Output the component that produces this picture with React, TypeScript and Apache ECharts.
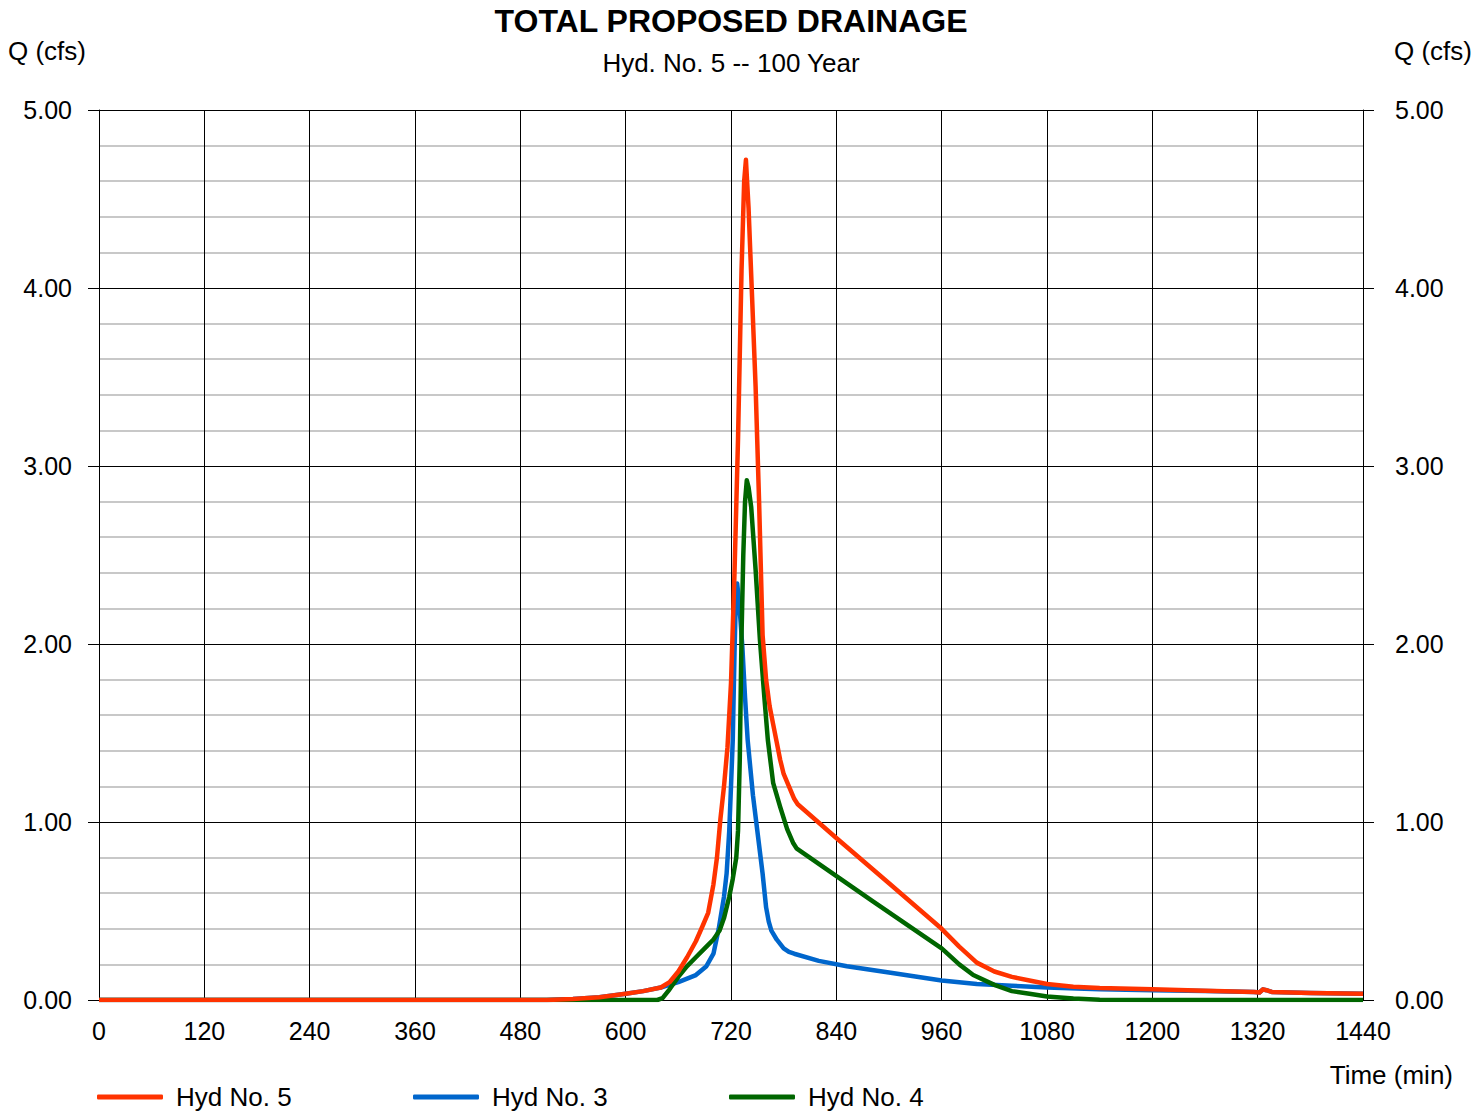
import React, { useEffect, useRef } from "react";
import * as echarts from "echarts";

// Hydrograph ordinates: [time (min), Q (cfs)]
const hydNo5: [number, number][] = [
  [0, 0], [510, 0], [540, 0.005], [570, 0.015], [600, 0.035], [620, 0.05], [640, 0.07],
  [650, 0.1], [660, 0.16], [670, 0.24], [680, 0.33], [688, 0.42], [694, 0.49], [700, 0.65],
  [704, 0.8], [708, 1.02], [712, 1.2], [716, 1.42], [720, 1.78], [724, 2.4], [728, 3.15],
  [732, 4.1], [735, 4.6], [737, 4.72], [740, 4.45], [744, 3.95], [748, 3.45], [752, 2.8],
  [756, 2.05], [760, 1.8], [764, 1.65], [768, 1.55], [772, 1.45], [776, 1.35], [780, 1.27],
  [786, 1.2], [792, 1.13], [796, 1.1], [840, 0.91], [900, 0.656], [960, 0.4], [980, 0.3],
  [1000, 0.21], [1020, 0.16], [1040, 0.13], [1060, 0.11], [1080, 0.09], [1110, 0.075],
  [1140, 0.067], [1200, 0.06], [1260, 0.052], [1316, 0.045], [1322, 0.042], [1326, 0.06],
  [1330, 0.055], [1336, 0.045], [1380, 0.04], [1440, 0.035],
];

const hydNo3: [number, number][] = [
  [0, 0], [510, 0], [540, 0.005], [570, 0.015], [600, 0.035], [620, 0.05], [640, 0.07],
  [660, 0.1], [680, 0.14], [692, 0.19], [700, 0.26], [706, 0.4], [712, 0.58], [715, 0.71],
  [718, 0.95], [720, 1.2], [722, 1.46], [724, 1.95], [725, 2.15], [727, 2.34], [729, 2.25],
  [731, 2.12], [733, 1.98], [736, 1.7], [739, 1.46], [745, 1.15], [750, 0.95], [756, 0.71],
  [760, 0.52], [763, 0.44], [766, 0.39], [772, 0.34], [780, 0.29], [786, 0.27], [792, 0.26],
  [820, 0.22], [852, 0.19], [900, 0.155], [960, 0.11], [1000, 0.09], [1040, 0.08],
  [1080, 0.07], [1140, 0.06], [1200, 0.055], [1260, 0.05], [1316, 0.045], [1322, 0.042],
  [1326, 0.06], [1330, 0.055], [1336, 0.045], [1380, 0.04], [1440, 0.035],
];

const hydNo4: [number, number][] = [
  [0, 0], [636, 0], [642, 0.01], [650, 0.06], [660, 0.13], [670, 0.19], [680, 0.24],
  [692, 0.3], [700, 0.34], [707, 0.39], [712, 0.46], [718, 0.58], [722, 0.68], [726, 0.8],
  [728, 0.95], [730, 1.35], [732, 2.05], [734, 2.5], [736, 2.8], [738, 2.92], [740, 2.88],
  [743, 2.77], [748, 2.42], [753, 2.02], [758, 1.7], [762, 1.46], [768, 1.22], [776, 1.085],
  [784, 0.96], [791, 0.88], [795, 0.85], [880, 0.56], [960, 0.29], [980, 0.2], [996, 0.14],
  [1020, 0.085], [1040, 0.05], [1060, 0.035], [1080, 0.02], [1110, 0.008], [1140, 0.002],
  [1200, 0], [1440, 0],
];

const seriesNames = ["Hyd No. 5", "Hyd No. 3", "Hyd No. 4"];
const seriesColors = ["#ff3300", "#0066cc", "#006600"];

const FONT = "'Liberation Sans', Arial, sans-serif";

export default function App() {
  const ref = useRef<HTMLDivElement>(null);

  useEffect(() => {
    if (!ref.current) return;
    const chart = echarts.init(ref.current, undefined, { renderer: "svg" });

    const yAxisBase = {
      type: "value" as const,
      min: 0,
      max: 5,
      interval: 1,
      axisLine: { show: true, lineStyle: { color: "#000", width: 1 } },
      axisTick: { show: true, length: 11, inside: false, lineStyle: { color: "#000", width: 1 } },
      axisLabel: {
        color: "#000",
        fontSize: 25,
        fontFamily: FONT,
        formatter: (v: number) => v.toFixed(2),
      },
    };

    const legendItem = (i: number, left: number) => ({
      show: true,
      data: [seriesNames[i]],
      left,
      top: 1082,
      padding: 0,
      icon: "roundRect",
      itemWidth: 66,
      itemHeight: 5,
      textStyle: {
        color: "#000",
        fontSize: 26,
        lineHeight: 30,
        fontFamily: FONT,
        padding: [0, 0, 0, 8],
      },
    });

    const lineSeries = (i: number, data: [number, number][], z: number) => ({
      name: seriesNames[i],
      type: "line" as const,
      data,
      showSymbol: false,
      symbol: "none",
      z,
      lineStyle: { color: seriesColors[i], width: 4.5, join: "round" as const },
      itemStyle: { color: seriesColors[i] },
      emphasis: { disabled: true },
    });

    chart.setOption({
      animation: false,
      backgroundColor: "#fff",
      textStyle: { fontFamily: FONT },
      grid: { left: 99, right: 110, top: 110, bottom: 112, containLabel: false },
      xAxis: {
        type: "value",
        min: 0,
        max: 1440,
        interval: 120,
        axisLine: { show: true, onZero: false, lineStyle: { color: "#000", width: 1 } },
        axisTick: { show: false },
        axisLabel: {
          color: "#000",
          fontSize: 25,
          fontFamily: FONT,
          margin: 18,
          formatter: (v: number) => String(v),
        },
        splitLine: { show: true, lineStyle: { color: "#000", width: 1 } },
      },
      yAxis: [
        {
          ...yAxisBase,
          position: "left",
          axisLabel: { ...yAxisBase.axisLabel, margin: 27 },
          splitLine: { show: true, lineStyle: { color: "#000", width: 1 } },
          minorTick: { show: false, splitNumber: 5 },
          minorSplitLine: { show: true, lineStyle: { color: "#c8c8c8", width: 2 } },
        },
        {
          ...yAxisBase,
          position: "right",
          axisLabel: { ...yAxisBase.axisLabel, margin: 32 },
          splitLine: { show: false },
        },
      ],
      legend: [legendItem(0, 97), legendItem(1, 413), legendItem(2, 729)],
      series: [
        lineSeries(1, hydNo3, 2),
        lineSeries(2, hydNo4, 3),
        lineSeries(0, hydNo5, 4),
      ],
      graphic: [
        {
          type: "text",
          x: 731,
          y: 21,
          style: {
            text: "TOTAL PROPOSED DRAINAGE",
            fill: "#000",
            font: `bold 32px ${FONT}`,
            align: "center",
            verticalAlign: "middle",
          },
        },
        {
          type: "text",
          x: 731,
          y: 63,
          style: {
            text: "Hyd. No. 5 -- 100 Year",
            fill: "#000",
            font: `26px ${FONT}`,
            align: "center",
            verticalAlign: "middle",
          },
        },
        {
          type: "text",
          x: 8,
          y: 51,
          style: {
            text: "Q (cfs)",
            fill: "#000",
            font: `26px ${FONT}`,
            align: "left",
            verticalAlign: "middle",
          },
        },
        {
          type: "text",
          x: 1472,
          y: 51,
          style: {
            text: "Q (cfs)",
            fill: "#000",
            font: `26px ${FONT}`,
            align: "right",
            verticalAlign: "middle",
          },
        },
        {
          type: "text",
          x: 1453,
          y: 1075,
          style: {
            text: "Time (min)",
            fill: "#000",
            font: `26px ${FONT}`,
            align: "right",
            verticalAlign: "middle",
          },
        },
      ],
    });

    return () => chart.dispose();
  }, []);

  return (
    <div
      ref={ref}
      style={{ position: "absolute", left: 0, top: 0, width: 1473, height: 1112 }}
    />
  );
}
